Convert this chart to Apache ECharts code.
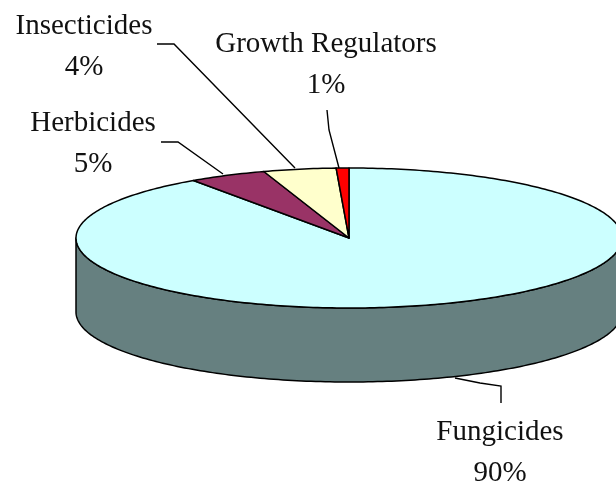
<!DOCTYPE html>
<html>
<head>
<meta charset="utf-8">
<style>html,body{margin:0;padding:0;background:#fff}#c{width:616px;height:486px}</style>
<script src="https://cdn.jsdelivr.net/npm/echarts@6/dist/echarts.min.js"></script>
</head>
<body>
<div id="c"></div>
<script>
// Data: clockwise from 12 o'clock
var categories = ['Fungicides', 'Herbicides', 'Insecticides', 'Growth Regulators'];
var shares = [90.35, 4.6, 4.3, 0.75];

// Styles
var topColors = ['#CCFFFF', '#993366', '#FFFFCC', '#FF0000'];
var wallColors = ['#668080', '#4D1A33', '#808066', '#800000'];

// Layout of the tilted disc and its callouts
var disc = { cx: 349, cy: 238, rx: 273, ry: 70, depth: 74 };
var labelCenters = [[500, 453], [93, 144], [84, 47], [326, 65]];
var leaders = [
  [[501, 403], [501, 386], [480, 383], [455, 378]],
  [[161, 142], [178, 142], [223, 174]],
  [[157, 44], [174, 44], [295, 168]],
  [[327, 110], [329, 130], [339, 168]]
];
var total = shares.reduce(function (a, b) { return a + b; }, 0);
var cumulative = shares.map(function (_, i) {
  return shares.slice(0, i).reduce(function (a, b) { return a + b; }, 0);
});

function pt(deg, dy) {
  var t = deg * Math.PI / 180;
  return [disc.cx + disc.rx * Math.sin(t), disc.cy - disc.ry * Math.cos(t) + (dy || 0)];
}
function arc(a, b, dy) {
  var out = [], n = Math.max(2, Math.ceil(Math.abs(b - a) / 1));
  for (var i = 0; i <= n; i++) out.push(pt(a + (b - a) * i / n, dy));
  return out;
}
var lineStyle = { stroke: '#000', lineWidth: 1.5, lineJoin: 'round' };

var wallSeries = {
  type: 'custom', coordinateSystem: 'none', silent: true, z: 1,
  data: shares,
  renderItem: function (params, api) {
    var i = params.dataIndex;
    var a = Math.max(cumulative[i] / total * 360, 90);
    var b = Math.min((cumulative[i] + api.value(0)) / total * 360, 270);
    if (b <= a) return { type: 'group', children: [] };
    var pts = arc(a, b, 0).concat(arc(b, a, disc.depth));
    return {
      type: 'polygon',
      shape: { points: pts },
      style: Object.assign({ fill: wallColors[i] }, lineStyle)
    };
  }
};

var topSeries = {
  type: 'custom', coordinateSystem: 'none', silent: true, z: 2,
  data: shares,
  renderItem: function (params, api) {
    var i = params.dataIndex;
    var a = cumulative[i] / total * 360;
    var b = (cumulative[i] + api.value(0)) / total * 360;
    var pts = [[disc.cx, disc.cy]].concat(arc(a, b, 0));
    return {
      type: 'polygon',
      shape: { points: pts },
      style: Object.assign({ fill: topColors[i] }, lineStyle)
    };
  }
};

var labelSeries = {
  type: 'custom', coordinateSystem: 'none', silent: true, z: 3,
  data: shares,
  renderItem: function (params, api) {
    var i = params.dataIndex;
    return {
      type: 'group',
      children: [
        {
          type: 'polyline',
          shape: { points: leaders[i] },
          style: { stroke: '#000', lineWidth: 1.4, fill: null }
        },
        {
          type: 'text',
          style: {
            x: labelCenters[i][0], y: labelCenters[i][1],
            text: categories[i] + '\n' + Math.round(api.value(0)) + '%',
            align: 'center', verticalAlign: 'middle',
            font: '29px "Liberation Serif"', lineHeight: 41, fill: '#111'
          }
        }
      ]
    };
  }
};

var chart = echarts.init(document.getElementById('c'), null, { renderer: 'canvas' });
chart.setOption({
  animation: false,
  backgroundColor: '#fff',
  series: [wallSeries, topSeries, labelSeries]
});
</script>
</body>
</html>
